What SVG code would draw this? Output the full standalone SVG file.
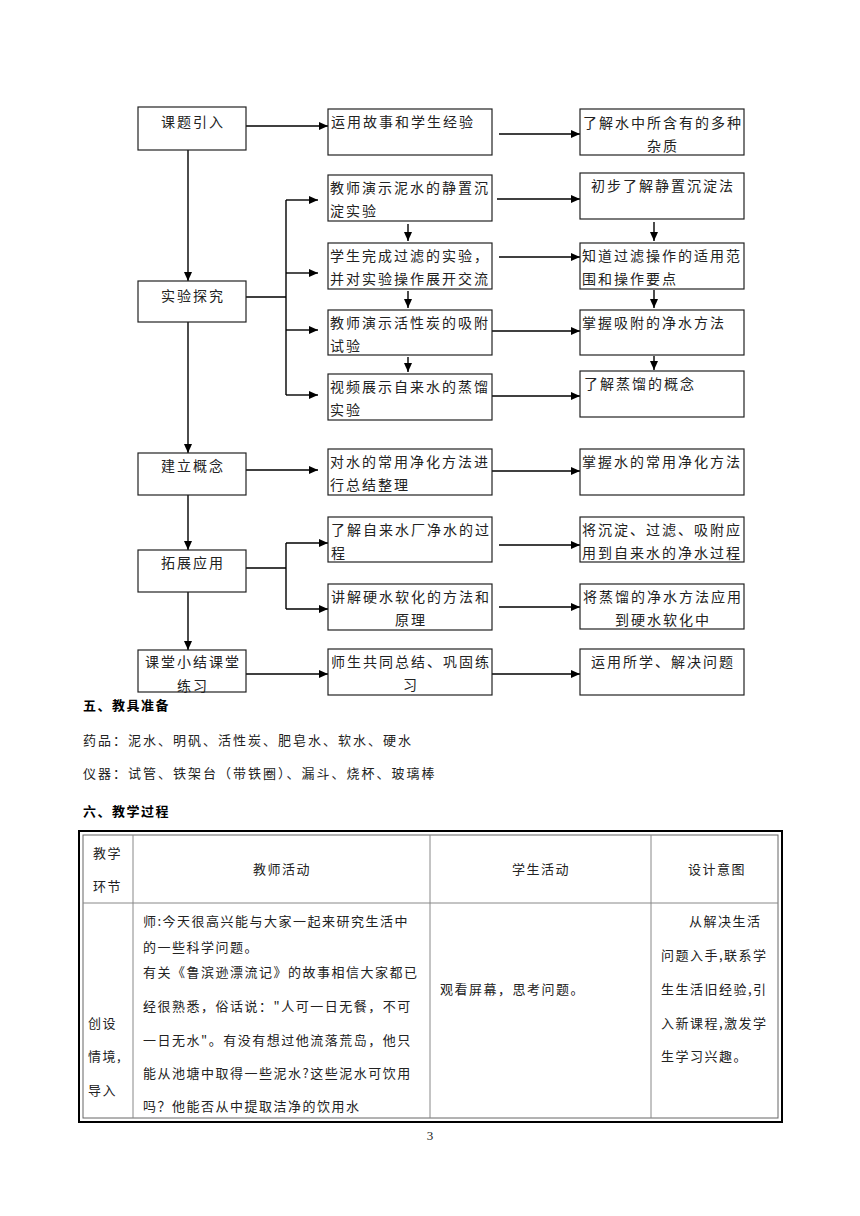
<svg xmlns="http://www.w3.org/2000/svg" width="860" height="1216" viewBox="0 0 860 1216">
<defs>
<marker id="ah" markerWidth="10" markerHeight="10" refX="9" refY="5" orient="auto" markerUnits="userSpaceOnUse">
<path d="M0,1 L9,5 L0,9 Z" fill="#000"/>
</marker>
<style>
.b{fill:#fff;stroke:#222;stroke-width:1.2}
.t{font-family:"Noto Sans CJK SC","Noto Sans CJK JP",sans-serif;font-size:14px;letter-spacing:2px;fill:#222}
.c{text-anchor:middle}
.cn line,.cn path{stroke:#000;stroke-width:1.4;fill:none}
.a{marker-end:url(#ah)}
.h{font-family:"Noto Sans CJK SC",sans-serif;font-size:13px;font-weight:bold;fill:#000;letter-spacing:1.5px}
.p{font-family:"Noto Sans CJK SC",sans-serif;font-size:13px;fill:#222;letter-spacing:2px}
.tb{font-family:"Noto Sans CJK SC",sans-serif;font-size:13px;fill:#222;letter-spacing:1.5px}
.g{stroke:#888;stroke-width:1;fill:none}
</style>
</defs>
<rect width="860" height="1216" fill="#fff"/>

<g id="connectors" class="cn">
<line class="a" x1="246" y1="126" x2="328" y2="126"/>
<line class="a" x1="499" y1="134" x2="580" y2="134"/>
<line class="a" x1="188" y1="150" x2="188" y2="281"/>
<path d="M246,297 H286 M286,200 V395"/>
<line class="a" x1="286" y1="200" x2="318" y2="200"/>
<line class="a" x1="286" y1="273" x2="318" y2="273"/>
<line class="a" x1="286" y1="330" x2="318" y2="330"/>
<line class="a" x1="286" y1="395" x2="318" y2="395"/>
<line class="a" x1="497" y1="199" x2="580" y2="199"/>
<line class="a" x1="499" y1="257" x2="580" y2="257"/>
<line class="a" x1="492" y1="331" x2="580" y2="331"/>
<line class="a" x1="492" y1="396" x2="580" y2="396"/>
<line class="a" x1="408" y1="224" x2="408" y2="241"/>
<line class="a" x1="408" y1="291" x2="408" y2="308"/>
<line class="a" x1="408" y1="357" x2="408" y2="372"/>
<line class="a" x1="654" y1="222" x2="654" y2="241"/>
<line class="a" x1="654" y1="290" x2="654" y2="308"/>
<line class="a" x1="654" y1="356" x2="654" y2="370"/>
<line class="a" x1="188" y1="322" x2="188" y2="453"/>
<line class="a" x1="246" y1="470" x2="318" y2="470"/>
<line class="a" x1="492" y1="471" x2="580" y2="471"/>
<line class="a" x1="188" y1="495" x2="188" y2="550"/>
<path d="M246,568 H286 M286,543 V609"/>
<line class="a" x1="286" y1="543" x2="328" y2="543"/>
<line class="a" x1="286" y1="609" x2="328" y2="609"/>
<line class="a" x1="499" y1="545" x2="580" y2="545"/>
<line class="a" x1="499" y1="607" x2="580" y2="607"/>
<line class="a" x1="188" y1="592" x2="188" y2="650"/>
<line class="a" x1="246" y1="674" x2="328" y2="674"/>
<line class="a" x1="492" y1="674" x2="580" y2="674"/>
</g>

<g id="n-ktyr"><rect class="b" x="138" y="107" width="108" height="43"/><text class="t c" x="193" y="127">课题引入</text></g>
<g id="n-syjt"><rect class="b" x="138" y="281" width="108" height="41"/><text class="t c" x="193" y="301">实验探究</text></g>
<g id="n-jlgn"><rect class="b" x="138" y="453" width="108" height="42"/><text class="t c" x="193" y="471">建立概念</text></g>
<g id="n-tzyy"><rect class="b" x="138" y="550" width="108" height="42"/><text class="t c" x="193" y="568">拓展应用</text></g>
<g id="n-ktxj"><rect class="b" x="138" y="650" width="108" height="42"/><text class="t c" x="193" y="667">课堂小结课堂</text><text class="t c" x="193" y="691">练习</text></g>

<g id="n-m1"><rect class="b" x="328" y="109" width="164" height="46"/><text class="t" x="331" y="127">运用故事和学生经验</text></g>
<g id="n-m2"><rect class="b" x="328" y="175" width="164" height="46"/><text class="t" x="330" y="193">教师演示泥水的静置沉</text><text class="t" x="330" y="216">淀实验</text></g>
<g id="n-m3"><rect class="b" x="328" y="243" width="164" height="46"/><text class="t" x="330" y="261">学生完成过滤的实验，</text><text class="t" x="330" y="284">并对实验操作展开交流</text></g>
<g id="n-m4"><rect class="b" x="328" y="310" width="164" height="45"/><text class="t" x="330" y="328">教师演示活性炭的吸附</text><text class="t" x="330" y="351">试验</text></g>
<g id="n-m5"><rect class="b" x="328" y="374" width="164" height="46"/><text class="t" x="330" y="392">视频展示自来水的蒸馏</text><text class="t" x="330" y="415">实验</text></g>
<g id="n-m6"><rect class="b" x="328" y="449" width="164" height="46"/><text class="t" x="330" y="467">对水的常用净化方法进</text><text class="t" x="330" y="490">行总结整理</text></g>
<g id="n-m7"><rect class="b" x="328" y="517" width="164" height="45"/><text class="t" x="331" y="535">了解自来水厂净水的过</text><text class="t" x="331" y="558">程</text></g>
<g id="n-m8"><rect class="b" x="328" y="584" width="164" height="46"/><text class="t c" x="411" y="602">讲解硬水软化的方法和</text><text class="t c" x="411" y="625">原理</text></g>
<g id="n-m9"><rect class="b" x="328" y="649" width="164" height="46"/><text class="t c" x="411" y="667">师生共同总结、巩固练</text><text class="t c" x="411" y="690">习</text></g>

<g id="n-r1"><rect class="b" x="580" y="109" width="164" height="46"/><text class="t c" x="663" y="128">了解水中所含有的多种</text><text class="t c" x="663" y="151">杂质</text></g>
<g id="n-r2"><rect class="b" x="580" y="173" width="164" height="46"/><text class="t c" x="663" y="191">初步了解静置沉淀法</text></g>
<g id="n-r3"><rect class="b" x="580" y="243" width="164" height="46"/><text class="t" x="582" y="261">知道过滤操作的适用范</text><text class="t" x="582" y="284">围和操作要点</text></g>
<g id="n-r4"><rect class="b" x="580" y="310" width="164" height="45"/><text class="t" x="582" y="328">掌握吸附的净水方法</text></g>
<g id="n-r5"><rect class="b" x="580" y="371" width="164" height="46"/><text class="t" x="584" y="389">了解蒸馏的概念</text></g>
<g id="n-r6"><rect class="b" x="580" y="449" width="164" height="46"/><text class="t" x="582" y="467">掌握水的常用净化方法</text></g>
<g id="n-r7"><rect class="b" x="580" y="517" width="164" height="45"/><text class="t" x="582" y="535">将沉淀、过滤、吸附应</text><text class="t" x="582" y="558">用到自来水的净水过程</text></g>
<g id="n-r8"><rect class="b" x="580" y="584" width="164" height="45"/><text class="t c" x="663" y="602">将蒸馏的净水方法应用</text><text class="t c" x="663" y="625">到硬水软化中</text></g>
<g id="n-r9"><rect class="b" x="580" y="649" width="164" height="46"/><text class="t c" x="663" y="667">运用所学、解决问题</text></g>

<g id="section5">
<text class="h" x="83" y="710">五、教具准备</text>
<text class="p" x="83" y="745">药品：泥水、明矾、活性炭、肥皂水、软水、硬水</text>
<text class="p" x="83" y="778">仪器：试管、铁架台（带铁圈）、漏斗、烧杯、玻璃棒</text>
<text class="h" x="83" y="816">六、教学过程</text>
</g>

<g id="table">
<rect x="79" y="831" width="703" height="291" fill="none" stroke="#000" stroke-width="2"/>
<rect x="83" y="835" width="695" height="283" fill="none" stroke="#666" stroke-width="1"/>
<line class="g" x1="83" y1="903" x2="778" y2="903"/>
<line class="g" x1="133" y1="835" x2="133" y2="1118"/>
<line class="g" x1="430" y1="835" x2="430" y2="1118"/>
<line class="g" x1="651" y1="835" x2="651" y2="1118"/>
<text class="tb" x="93" y="858">教学</text>
<text class="tb" x="93" y="891">环节</text>
<text class="tb c" x="282" y="874">教师活动</text>
<text class="tb c" x="541" y="874">学生活动</text>
<text class="tb c" x="717" y="874">设计意图</text>
<text class="tb" x="88" y="1028">创设</text>
<text class="tb" x="88" y="1061">情境,</text>
<text class="tb" x="88" y="1095">导入</text>
<text class="tb" x="143" y="926">师:今天很高兴能与大家一起来研究生活中</text>
<text class="tb" x="143" y="952">的一些科学问题。</text>
<text class="tb" x="143" y="977">有关《鲁滨逊漂流记》的故事相信大家都已</text>
<text class="tb" x="143" y="1011">经很熟悉，俗话说："人可一日无餐，不可</text>
<text class="tb" x="143" y="1045">一日无水"。有没有想过他流落荒岛，他只</text>
<text class="tb" x="143" y="1078">能从池塘中取得一些泥水?这些泥水可饮用</text>
<text class="tb" x="143" y="1111">吗？他能否从中提取洁净的饮用水</text>
<text class="tb" x="440" y="994">观看屏幕，思考问题。</text>
<text class="tb" x="689" y="926">从解决生活</text>
<text class="tb" x="661" y="960">问题入手,联系学</text>
<text class="tb" x="661" y="994">生生活旧经验,引</text>
<text class="tb" x="661" y="1028">入新课程,激发学</text>
<text class="tb" x="661" y="1061">生学习兴趣。</text>
</g>
<text x="430" y="1140" text-anchor="middle" font-family="Liberation Serif,serif" font-size="13" fill="#222">3</text>
</svg>
